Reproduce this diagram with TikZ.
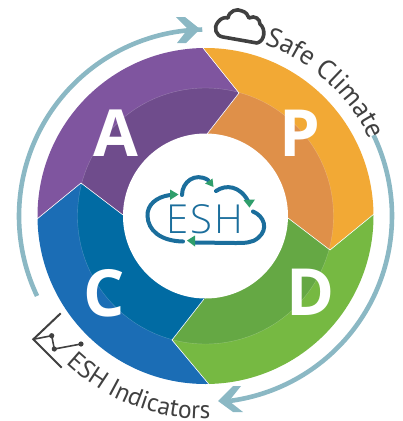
\documentclass[tikz,border=0pt]{standalone}
\usepackage{fontspec}
\usetikzlibrary{decorations.text}
\newfontfamily\lblfont{PT Sans}
\newfontfamily\pdcafont{Open Sans}[BoldFont={Open Sans Bold}]
\newfontfamily\eshfont{Open Sans Light}[LetterSpace=6]
\definecolor{ringteal}{HTML}{8BB8C4}
\definecolor{inkgray}{HTML}{404040}
\definecolor{eshblue}{HTML}{1B6E9C}
\definecolor{eshgreen}{HTML}{2F9E6B}
\definecolor{pur}{HTML}{7F559F}\definecolor{purd}{HTML}{6F4C8C}
\definecolor{ora}{HTML}{F2A935}\definecolor{orad}{HTML}{DF9049}
\definecolor{gre}{HTML}{76B942}\definecolor{gred}{HTML}{65A844}
\definecolor{blu}{HTML}{1B6DB5}\definecolor{blud}{HTML}{016BA3}
\tikzset{
  ringarrow/.style={draw=ringteal,line width=4.6pt},
  ringhead/.style={fill=ringteal},
  seam/.style={draw=white,line width=0.6pt,line join=miter},
  letter/.style={text=white,font=\pdcafont\bfseries\fontsize{65}{65}\selectfont,inner sep=0pt,anchor=center},
  eshline/.style={draw=eshblue,line width=4pt,line cap=round},
  eshtip/.style={fill=eshgreen},
  iconline/.style={draw=inkgray,line width=2pt},
}
\newcommand{\sector}[4]{%
  \begin{scope}
    \clip #1;
    \fill[#2] (205.5,216) circle[radius=168pt];
    \fill[#3] (205.5,216) circle[radius=128pt];
    \draw[white,opacity=.25,line width=.4pt] (205.5,216) circle[radius=128pt];
  \end{scope}}
\begin{document}
\begin{tikzpicture}[x=1pt,y=-1pt]
\useasboundingbox (0,0) rectangle (403,421);
% sectors
\sector{(207,134) -- (239,93) -- (192,34.5) -- (400,30) -- (387,203) -- (330,250) -- (288,218) -- (205.5,216) -- cycle}{ora}{orad}{}
\sector{(288,218) -- (330,250) -- (387,203) -- (400,410) -- (219.7,397) -- (172,340) -- (204,299) -- (205.5,216) -- cycle}{gre}{gred}{}
\sector{(204,299) -- (172,340) -- (219.7,397) -- (0,410) -- (24,230) -- (81,183) -- (123,215) -- (205.5,216) -- cycle}{blu}{blud}{}
\sector{(123,215) -- (81,183) -- (24,230) -- (10,10) -- (192,34.5) -- (239,93) -- (207,134) -- (205.5,216) -- cycle}{pur}{purd}{}
% seams
\draw[seam] (207,134) -- (239,93) -- (203,48);
\draw[seam] (288,218) -- (330,250) -- (374,214);
\draw[seam] (204,299) -- (172,340) -- (208.7,384);
\draw[seam] (123,215) -- (81,183) -- (37,219);
\fill[white] (205.5,216) circle[radius=82.5pt];
% letters
\node[letter] (lA) at (116,133) {A};
\node[letter] (lP) at (300,133) {P};
\node[letter] (lC) at (104,293) {C};
\node[letter] (lD) at (311,292) {D};
% ring arrows
\draw[ringarrow] plot[domain=205.4:91,samples=80] ({205.5+186.5*cos(\x)},{216-186.5*sin(\x)});
\fill[ringhead] (200,29) -- (185,17) -- (176,17) -- (188,29) -- (177,43) -- (186,43) -- cycle;
\draw[ringarrow] plot[domain=25.7:-83,samples=80] ({205.5+186.5*cos(\x)},{216-186.5*sin(\x)});
\fill[ringhead] (218,401) -- (233,386) -- (241,386) -- (229,401) -- (243,412) -- (233,412) -- cycle;
% cloud icon
\draw[draw=inkgray,line width=3.6pt,line join=round]
 (223,37) .. controls (216,36) and (213,28) .. (218,22)
 .. controls (221,18) and (225,17) .. (228,18)
 .. controls (229,11) and (237,8) .. (242,11)
 .. controls (246,12) and (248,15) .. (249,18)
 .. controls (255,15) and (260,19) .. (260,24)
 .. controls (266,29) and (265,41) .. (257,43) -- cycle;
% chart icon
\draw[iconline] (60.7,313.3) -- (33.3,339.3) -- (61.7,367.7);
\draw[iconline,line width=1.6pt] (33.3,339.3) -- (51.7,335.7) -- (54.3,349) -- (81,344);
\fill[inkgray] (51.7,335.7) circle[radius=2.6pt] (54.3,349) circle[radius=2.6pt] (81,344) circle[radius=2.6pt];
% curved labels
\path[decorate,decoration={text along path,text color=inkgray,
  text={|\lblfont\fontsize{27}{27}\selectfont|Safe Climate}}]
  plot[domain=71:18,samples=60] ({205.5+181*cos(\x)},{216-181*sin(\x)});
\path[decorate,decoration={text along path,text color=inkgray,
  text={|\lblfont\fontsize{25.5}{25.5}\selectfont|ESH Indicators}}]
  plot[domain=226.5:278,samples=60] ({205.5+203*cos(\x)},{216-203*sin(\x)});
% ESH logo
\node[text=eshblue,font=\eshfont\fontsize{40}{40}\selectfont,inner sep=0pt] (esh) at (205,219) {ESH};
\draw[eshline] (170,195) .. controls (156,197) and (147,205) .. (147.5,216)
  .. controls (148,230) and (160,241) .. (183,241.5);
\draw[eshline] (182,195) .. controls (182,182) and (195,172) .. (208,180);
\draw[eshline] (216,191) .. controls (226,184) and (240,186) .. (248,201);
\draw[eshline] (253,211.5) .. controls (264,216) and (269,229) .. (258,238)
  .. controls (252,243) and (245,243) .. (235,243) -- (195,242.5);
\fill[eshtip] (170,189.5) -- (178.5,194.5) -- (170,200) -- cycle;
\fill[eshtip] (205,183.5) -- (212.5,178.5) -- (213.5,187) -- cycle;
\fill[eshtip] (243.5,200) -- (255,199.5) -- (249.5,207.5) -- cycle;
\fill[eshtip] (195,235.5) -- (187,240.5) -- (195,246.5) -- cycle;
\end{tikzpicture}
\end{document}
